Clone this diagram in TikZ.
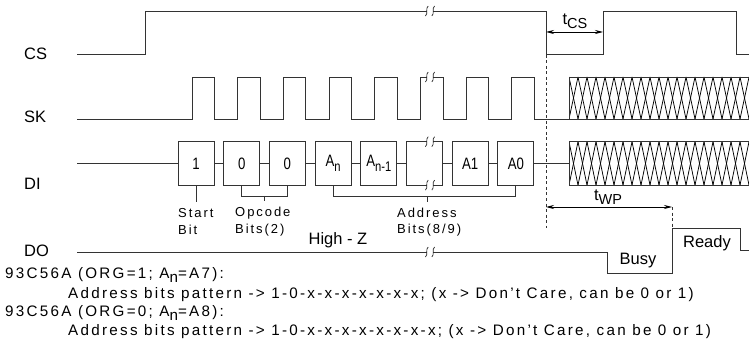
\documentclass[tikz,border=0pt]{standalone}
\usepackage{fontspec}
\usepackage{graphicx}
\setmainfont{Liberation Sans}
\newfontfamily\spfont[LetterSpace=15]{Liberation Sans}
\usetikzlibrary{arrows.meta}
\newcommand\sqgl[2]{\draw[brkline] (#1+1.4,#2-5) .. controls (#1-1.6,#2-3) and (#1+1.6,#2+3) .. (#1-1.4,#2+5);}
\newcommand\brkat[2]{\fill[white] (#1-3.2,#2-1.6) rectangle (#1+3.2,#2+1.6); \sqgl{#1-3.2}{#2}\sqgl{#1+3.2}{#2}}
\newcommand\bt[1]{\scalebox{0.8}[1]{#1}}
\newcommand\sbx[1]{\raisebox{-5pt}{\fontsize{14}{14}\selectfont #1}}
\newcommand\hatchbox[4]{%
  \begin{scope}
    \clip (#1,#3) rectangle (#2,#4);
    \foreach \k in {0,...,21} {
      \draw[hatchline] (#1+\k*9,#3) -- (#1+\k*9+9,#4);
      \draw[hatchline] (#1+\k*9,#4) -- (#1+\k*9+9,#3);
    }
  \end{scope}
  \draw[sig] (#2,#3) -- (#1,#3) -- (#1,#4) -- (#2,#4);}
\begin{document}
\begin{tikzpicture}[x=1pt,y=-1pt,
  sig/.style={draw=black!80,line width=0.9pt},
  hatchline/.style={draw=black,line width=0.75pt},
  brkline/.style={draw=black!85,line width=0.7pt},
  dimline/.style={draw=black,line width=0.8pt,{Stealth[length=8pt,width=4pt]}-{Stealth[length=8pt,width=4pt]}},
  dashline/.style={draw=black!80,line width=0.8pt,dash pattern=on 3pt off 2.5pt},
  lbl/.style={font=\fontsize{16.5}{18}\selectfont,inner sep=0pt},
  small/.style={font=\fontsize{13}{15}\selectfont\spfont,inner sep=0pt,align=left},
  note/.style={font=\fontsize{15.2}{17}\selectfont\spfont,inner sep=0pt,anchor=west},
  bitbox/.style={sig,minimum width=36pt,minimum height=43.3pt,inner sep=0pt,font=\fontsize{16.5}{18}\selectfont}]
\useasboundingbox (0,0) rectangle (749,358);

% signal labels
\node[lbl,anchor=west] (lcs) at (24,54) {CS};
\node[lbl,anchor=west] (lsk) at (24,117) {SK};
\node[lbl,anchor=west] (ldi) at (24,184) {DI};
\node[lbl,anchor=west] (ldo) at (24,251) {DO};

% CS
\draw[sig] (77,54) -- (145,54) -- (145,11) -- (546,11) -- (546,54) -- (603,54) -- (603,11) -- (736,11) -- (736,54) -- (749,54);
\brkat{430}{11}

% SK
\draw[sig] (77,119)
  \foreach \i in {0,...,7} { -- (192+\i*45.7,119) -- (192+\i*45.7,77) -- (214.5+\i*45.7,77) -- (214.5+\i*45.7,119) }
  -- (569,119);
\brkat{430}{77}
\hatchbox{569}{749.5}{77}{119}

% DI
\node[bitbox] (b1) at (196,163.4) {\bt{1}};
\node[bitbox] (b2) at (241.7,163.4) {\bt{0}};
\node[bitbox] (b3) at (287.4,163.4) {\bt{0}};
\node[bitbox] (b4) at (333.1,163.4) {\bt{A\sbx{n}}};
\node[bitbox] (b5) at (378.8,163.4) {\bt{A\sbx{n-1}}};
\node[bitbox] (b6) at (424.5,163.4) {};
\node[bitbox] (b7) at (470.2,163.4) {\bt{A1}};
\node[bitbox] (b8) at (515.9,163.4) {\bt{A0}};
\coordinate (distart) at (77,163.4);
\coordinate (diend) at (569,163.4);
\draw[sig] (distart) -- (b1.west);
\draw[sig] (b1.east) -- (b2.west);
\draw[sig] (b2.east) -- (b3.west);
\draw[sig] (b3.east) -- (b4.west);
\draw[sig] (b4.east) -- (b5.west);
\draw[sig] (b5.east) -- (b6.west);
\draw[sig] (b6.east) -- (b7.west);
\draw[sig] (b7.east) -- (b8.west);
\draw[sig] (b8.east) -- (diend);
\brkat{430}{141.7}
\brkat{430}{185.1}
\hatchbox{569}{749.5}{141.7}{185.1}

% brackets
\draw[sig] (b1.south) -- ++(0,16);
\draw[sig] (b2.south) -- ++(0,11) -| (b3.south);
\draw[sig] (264.5,196) -- (264.5,201);
\draw[sig] (b4.south) -- ++(0,11) -| (b8.south);
\draw[sig] (427,196) -- (427,202);

\node[small,anchor=west] (tstart) at (178,213) {Start};
\node[small,anchor=west] (tbit) at (178,230) {Bit};
\node[small,anchor=west] (topc) at (235,213) {Opcode};
\node[small,anchor=west] (topb) at (235,230) {Bits(2)};
\node[small,anchor=west] (tadr) at (397,213) {Address};
\node[small,anchor=west] (tadb) at (397,230) {Bits(8/9)};

% DO
\draw[sig] (77,252) -- (607,252) -- (607,273) -- (672,273) -- (672,228) -- (740,228) -- (740,250) -- (749,250);
\brkat{430}{252}
\node[lbl] (hz) at (338,240) {High - Z};
\node[lbl] (busy) at (638,261) {Busy};
\node[lbl] (ready) at (707,243) {Ready};

% timing
\coordinate (csfall) at (546,32);
\coordinate (csrise) at (603,32);
\draw[dimline] (csfall) -- (csrise);
\node[lbl] (tcs) at (575,21) {t\raisebox{-4pt}{\fontsize{14.5}{15}\selectfont CS}};
\draw[dashline] (546,55) -- (546,228);
\coordinate (wpa) at (546,207);
\coordinate (wpb) at (672,207);
\draw[dimline] (wpa) -- (wpb);
\draw[dashline] (672,207) -- (672,228);
\node[lbl] (twp) at (608,197) {t\raisebox{-4pt}{\fontsize{14.5}{15}\selectfont WP}};

% notes
\node[note] (n1) at (5,275) {93C56A (ORG=1; A\raisebox{-4pt}{n}=A7):};
\node[note] (n2) at (68,295) {Address bits pattern -> 1-0-x-x-x-x-x-x-x; (x -> Don’t Care, can be 0 or 1)};
\node[note] (n3) at (5,313) {93C56A (ORG=0; A\raisebox{-4pt}{n}=A8):};
\node[note] (n4) at (68,332) {Address bits pattern -> 1-0-x-x-x-x-x-x-x-x; (x -> Don’t Care, can be 0 or 1)};
\end{tikzpicture}
\end{document}
